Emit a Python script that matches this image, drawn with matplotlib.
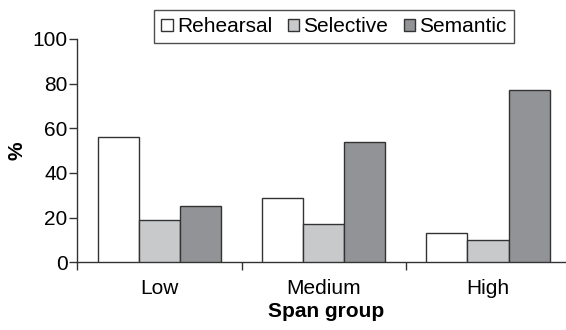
import numpy as np
import matplotlib.pyplot as plt
from matplotlib.patches import Patch

plt.rcParams['font.family'] = ['Liberation Sans', 'DejaVu Sans']

groups = ['Low', 'Medium', 'High']
series_names = ['Rehearsal', 'Selective', 'Semantic']
rehearsal = [56, 29, 13]
selective = [19, 17, 10]
semantic = [25, 54, 77]
y_ticks = [0, 20, 40, 60, 80, 100]

colors = ['#ffffff', '#c8c9cb', '#929396']
edge = '#333333'
FS = 15


def main():
    fig = plt.figure(figsize=(5.66, 3.3), dpi=100)
    ax = fig.add_axes([0.1366, 0.205, 0.8634, 0.677])

    x = np.arange(len(groups))
    w = 0.25
    for i, vals in enumerate([rehearsal, selective, semantic]):
        ax.bar(x + (i - 1) * w, vals, w, color=colors[i], edgecolor=edge,
               linewidth=1.0, zorder=3)

    ax.set_xlim(-0.5, 2.475)
    ax.set_ylim(0, 100)
    ax.set_yticks(y_ticks)
    ax.tick_params(axis='y', labelsize=FS, length=6, width=1, color=edge, pad=1)
    ax.set_xticks([-0.5, 0.5, 1.5])
    ax.set_xticklabels([])
    ax.tick_params(axis='x', length=6, width=1, color=edge)
    for i, g in enumerate(groups):
        ax.text(i, -14.2, g, ha='center', va='baseline', fontsize=FS)

    for s in ['top', 'right']:
        ax.spines[s].set_visible(False)
    for s in ['left', 'bottom']:
        ax.spines[s].set_color(edge)
        ax.spines[s].set_linewidth(1)

    ax.set_ylabel('%', fontsize=FS, fontweight='bold', labelpad=4)
    fig.text(0.577, 0.038, 'Span group', ha='center', va='baseline',
             fontsize=FS, fontweight='bold')

    handles = [Patch(facecolor=c, edgecolor=edge, label=n)
               for c, n in zip(colors, series_names)]
    leg = fig.legend(handles=handles, loc='upper center',
                     bbox_to_anchor=(0.59, 0.97), ncol=3, fontsize=FS,
                     frameon=True, fancybox=False, handlelength=0.55,
                     handleheight=0.55, handletextpad=0.2, columnspacing=0.75,
                     borderpad=0.35, borderaxespad=0)
    leg.get_frame().set_edgecolor('#222222')
    leg.get_frame().set_linewidth(1)

    fig.savefig('out.png', dpi=100)


if __name__ == '__main__':
    main()
